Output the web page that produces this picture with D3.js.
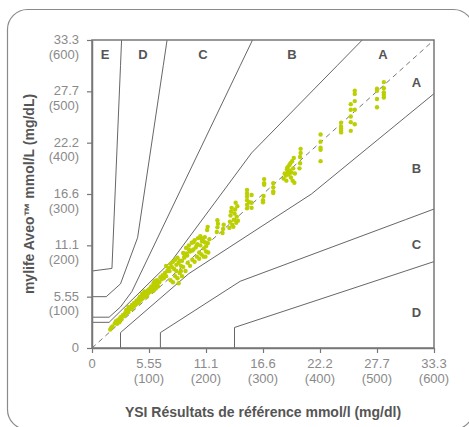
<!DOCTYPE html>
<html>
<head>
<meta charset="utf-8">
<script src="https://cdn.jsdelivr.net/npm/d3@7"></script>
<style>
  html, body { margin: 0; padding: 0; background: #fff; }
  svg { display: block; font-family: "Liberation Sans", Arial, sans-serif; }
</style>
</head>
<body>
<div id="chart"></div>
<script>
// tick values (mg/dL) and their two-line labels
var tickMg = [0, 100, 200, 300, 400, 500, 600];
var tickMmol = ["0", "5.55", "11.1", "16.6", "22.2", "27.7", "33.3"];
var tickMgText = ["", "(100)", "(200)", "(300)", "(400)", "(500)", "(600)"];

// Parkes error grid (type 1) boundaries, mg/dL
var upperA = [[0,50],[30,50],[140,170],[280,380],[430,550],[474.1,600]];
var upperB = [[0,60],[30,60],[50,80],[70,110],[260,550],[281.6,600]];
var upperC = [[0,100],[25,100],[50,125],[80,215],[125,550],[131.7,600]];
var upperD = [[0,150],[35,155],[50,550],[51.9,600]];
var lowerA = [[50,0],[50,30],[170,145],[385,300],[550,450],[600,495.5]];
var lowerB = [[120,0],[120,30],[260,130],[550,250],[600,270.7]];
var lowerC = [[250,0],[250,40],[550,150],[600,168.3]];

// zone letters, anchored in mg/dL
var zoneText = ["E", "D", "C", "B", "A", "A", "B", "C", "D"];
var zoneRef  = [22.8, 89.5, 194.7, 350.9, 510.5, 569.3, 569.3, 569.3, 569.3];
var zoneMeter = [572.8, 572.8, 572.8, 572.8, 572.8, 518, 350.6, 202.6, 70.1];

// measurements: YSI reference vs meter, mg/dL
var ysi = [
  32,34,36, 40,42,44,46,48,
  50,52,54,56,58,60,62,64,66,
  68,70,72,74,76,78,
  80,82,84,86,88,90,92,94,96,98,100,102,104,106,108,110,112,114,116,
  84,88,92,96,100,104,108,112,
  60,64,70,74,78,82,86,90,94,98,104,108,
  110,114,118,120,122,124,126,128,130,132,
  130,134,136,138,140,142,144,146,148,150,152,154,156,
  138,142,146,150,154,148,152,156,158,160,164,168,172,176,180,184,188,192,196,200,204,
  160,162,165,167,170,172,175,178,180,182,185,188,190,193,196,198,200,203,
  176,184,192,199,206, 186,190,194,198,178,170,166,162,158,
  202,203, 219,220,221,220, 229,230,231,
  241,242,243,244,245,246,
  248,249,250,251,252,253,254,255,256,
  272,272,272,272,272,272,276, 280,280,280,
  300,301,302,302,302,300, 318,318,318,318,
  336,338,340,342,343,344,345,346,347,348,349,350,351,352,353,354,355,356,341,
  364,365,365,366,366,
  401,401,401,401,401,
  437,437,437,437,437,
  454,454,454,454,454,
  461,461,461,461,461,
  500,500,500,500,
  512,512,512,512,512
];
var meter = [
  36,40,42, 48,52,47,55,50,
  60,56,64,62,68,66,72,70,76,
  78,84,80,88,84,92,
  90,96,92,100,96,104,100,108,104,112,108,116,110,118,112,122,116,126,120,
  100,106,110,100,114,118,120,124,
  74,80,76,82,86,88,94,98,102,106,120,126,
  130,132,128,138,134,142,136,146,140,150,
  160,156,150,164,158,168,154,172,162,176,166,170,160,
  132,128,140,136,146,150,126,150,140,158,150,166,160,172,168,178,174,182,178,188,186,
  185,176,195,180,200,188,205,192,210,196,202,186,200,208,194,206,198,204,
  190,200,214,178,212, 214,218,212,216,206,192,184,178,170,
  230,236, 226,235,242,249, 224,232,240,
  234,246,258,266,273,240,
  236,250,262,270,283,244,256,276,248,
  272,279,288,295,301,308,284, 273,283,298,
  284,296,318,321,329,288, 305,313,321,302,
  330,340,336,348,352,344,338,356,346,360,332,342,364,326,350,370,322,340,326,
  350,360,372,380,388,
  364,386,390,402,416,
  420,423,427,431,439,
  423,440,451,464,475,
  436,464,481,495,501,
  469,485,501,505,
  488,493,498,506,518
];

var W = 469, H = 427;
var svg = d3.select("#chart").append("svg")
    .attr("width", W)
    .attr("height", H)
    .attr("viewBox", "0 0 " + W + " " + H);

// card
svg.append("rect")
    .attr("x", 7.5).attr("y", 9.5)
    .attr("width", 466).attr("height", 420)
    .attr("rx", 20).attr("ry", 20)
    .attr("fill", "#fff")
    .attr("stroke", "#8a8a8a")
    .attr("stroke-width", 1.2);

var x = d3.scaleLinear().domain([0, 600]).range([92, 434]);
var y = d3.scaleLinear().domain([0, 600]).range([348, 40]);

var line = d3.line().x(function (d) { return x(d[0]); }).y(function (d) { return y(d[1]); });

// zone boundaries
[upperA, upperB, upperC, upperD, lowerA, lowerB, lowerC].forEach(function (b) {
    svg.append("path")
        .attr("d", line(b))
        .attr("fill", "none")
        .attr("stroke", "#555")
        .attr("stroke-width", 0.9);
});

// identity line
svg.append("path")
    .attr("d", line([[0, 0], [600, 600]]))
    .attr("fill", "none")
    .attr("stroke", "#666")
    .attr("stroke-width", 0.9)
    .attr("stroke-dasharray", "5,4");

// points
svg.append("g").selectAll("circle")
    .data(d3.range(ysi.length))
    .enter().append("circle")
    .attr("cx", function (i) { return x(ysi[i]); })
    .attr("cy", function (i) { return y(meter[i]); })
    .attr("r", 2.2)
    .attr("fill", "#bccf00");

// frame
svg.append("rect")
    .attr("x", x(0)).attr("y", y(600))
    .attr("width", x(600) - x(0)).attr("height", y(0) - y(600))
    .attr("fill", "none")
    .attr("stroke", "#777")
    .attr("stroke-width", 1.5);

// axes (ticks only, labels drawn below)
var gx = svg.append("g")
    .attr("transform", "translate(0," + y(0) + ")")
    .call(d3.axisBottom(x).tickValues(tickMg).tickSize(5).tickSizeOuter(0).tickFormat(""));
var gy = svg.append("g")
    .attr("transform", "translate(" + x(0) + ",0)")
    .call(d3.axisLeft(y).tickValues(tickMg).tickSize(5).tickSizeOuter(0).tickFormat(""));
[gx, gy].forEach(function (g) {
    g.select(".domain").attr("stroke", "#777").attr("stroke-width", 1.5);
    g.selectAll(".tick line").attr("stroke", "#777").attr("stroke-width", 1.2);
});

var tickFont = 13, tickColor = "#8a8a8a";
tickMg.forEach(function (v, i) {
    svg.append("text")
        .attr("x", x(v)).attr("y", y(0) + 20)
        .attr("text-anchor", "middle")
        .attr("font-size", tickFont).attr("fill", tickColor)
        .text(tickMmol[i]);
    if (tickMgText[i]) {
        svg.append("text")
            .attr("x", x(v)).attr("y", y(0) + 34.5)
            .attr("text-anchor", "middle")
            .attr("font-size", tickFont).attr("fill", tickColor)
            .text(tickMgText[i]);
    }
    svg.append("text")
        .attr("x", 79).attr("y", y(v) + 4)
        .attr("text-anchor", "end")
        .attr("font-size", tickFont).attr("fill", tickColor)
        .text(tickMmol[i]);
    if (tickMgText[i]) {
        svg.append("text")
            .attr("x", 79).attr("y", y(v) + 18.5)
            .attr("text-anchor", "end")
            .attr("font-size", tickFont).attr("fill", tickColor)
            .text(tickMgText[i]);
    }
});

// zone letters
zoneText.forEach(function (t, i) {
    svg.append("text")
        .attr("x", x(zoneRef[i]))
        .attr("y", y(zoneMeter[i]) + 4.6)
        .attr("text-anchor", "middle")
        .attr("font-size", 13)
        .attr("font-weight", "bold")
        .attr("fill", "#555")
        .text(t);
});

// axis titles
svg.append("text")
    .attr("x", (x(0) + x(600)) / 2)
    .attr("y", 417)
    .attr("text-anchor", "middle")
    .attr("font-size", 14)
    .attr("font-weight", "bold")
    .attr("fill", "#555")
    .text("YSI Résultats de référence mmol/l (mg/dl)");

svg.append("text")
    .attr("transform", "translate(34," + (y(0) + y(600)) / 2 + ") rotate(-90)")
    .attr("text-anchor", "middle")
    .attr("font-size", 14)
    .attr("font-weight", "bold")
    .attr("fill", "#555")
    .text("mylife Aveo™ mmol/L (mg/dL)");
</script>
</body>
</html>
